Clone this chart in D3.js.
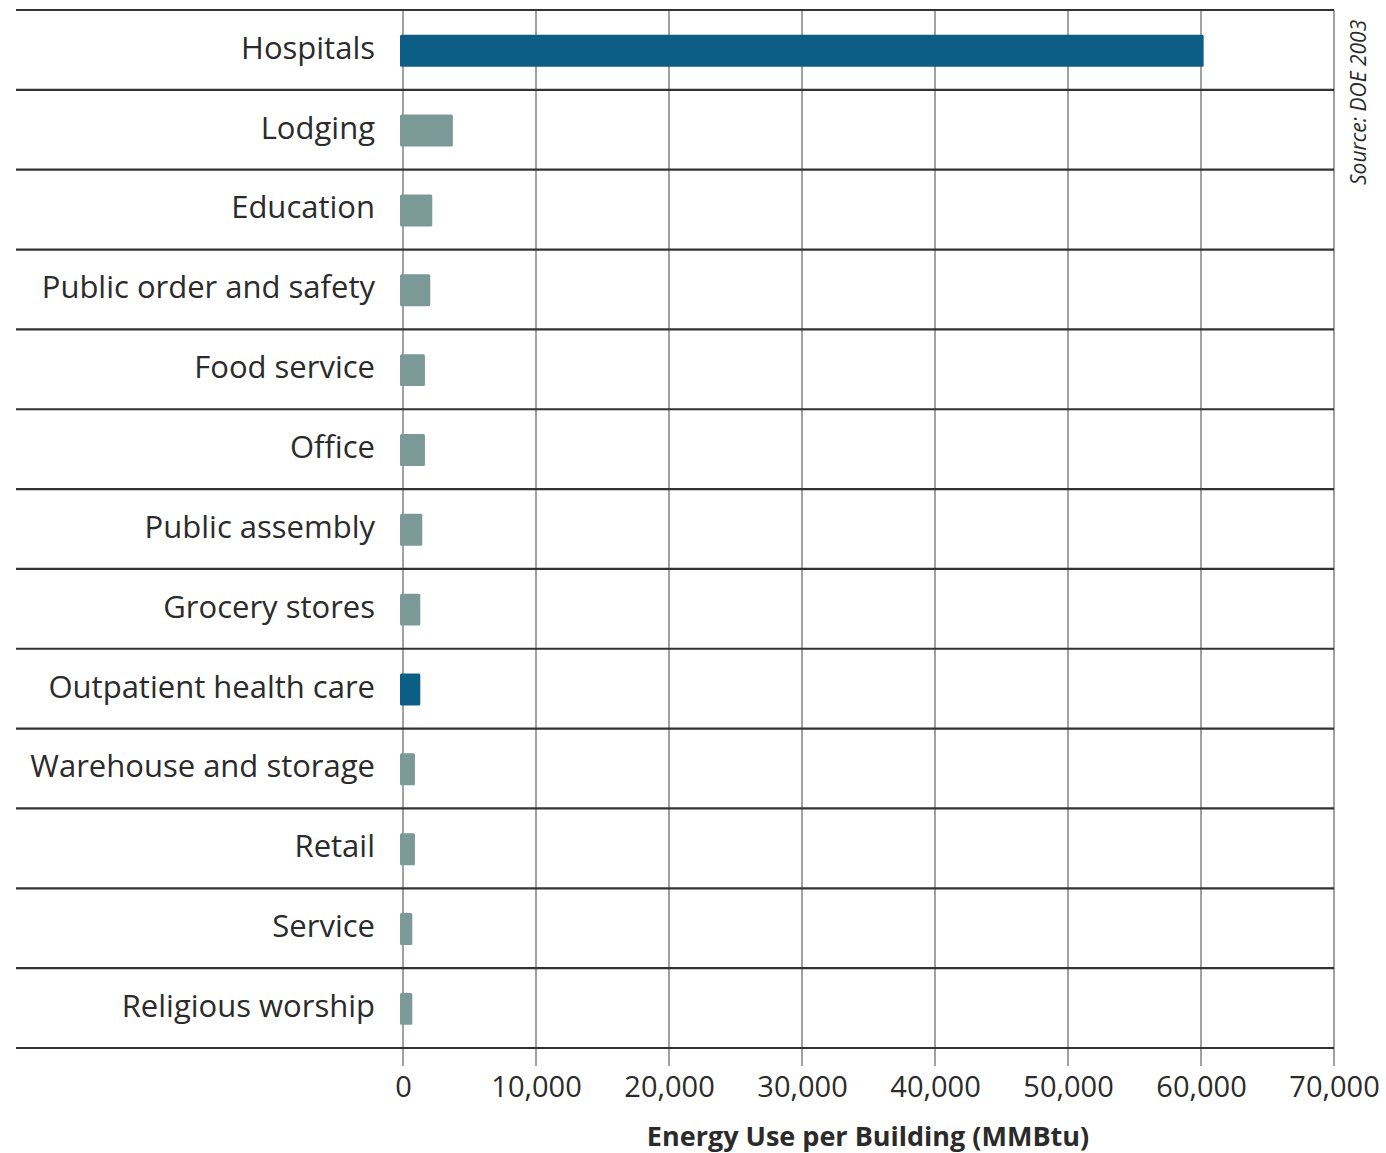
<!DOCTYPE html>
<html>
<head>
<meta charset="utf-8">
<script src="https://cdn.jsdelivr.net/npm/d3@7"></script>
<style>
  body { margin: 0; background: #fff; }
  text { font-family: "Open Sans", Lato, sans-serif; fill: #2b2b2b; }
</style>
</head>
<body>
<div id="chart"></div>
<script>
// Energy use per building, CBECS (DOE 2003)

let categories = ["Hospitals", "Lodging", "Education", "Public order and safety",
  "Food service", "Office", "Public assembly", "Grocery stores",
  "Outpatient health care", "Warehouse and storage", "Retail", "Service",
  "Religious worship"];
let energyUse = [60200, 3750, 2200, 2050, 1650, 1650, 1450, 1300, 1300, 900, 900, 700, 700];
let highlighted = ["Hospitals", "Outpatient health care"];
let tickValues = [0, 10000, 20000, 30000, 40000, 50000, 60000, 70000];

let svgWidth = 1386, svgHeight = 1153;
let rowLeft = 16, plotLeft = 403, plotRight = 1334, plotTop = 10, plotBottom = 1048;

let xScale = d3.scaleLinear().domain([0, 70000]).range([plotLeft, plotRight]);
let yScale = d3.scaleBand().domain(categories).range([plotTop, plotBottom]).padding(0);

let svg = d3.select("#chart").append("svg")
  .attr("width", svgWidth)
  .attr("height", svgHeight);

// vertical grid lines, running down past the last row as ticks
svg.append("g")
  .selectAll("line")
  .data(tickValues)
  .enter()
  .append("line")
  .attr("x1", d => xScale(d)).attr("x2", d => xScale(d))
  .attr("y1", plotTop).attr("y2", plotBottom + 18)
  .attr("stroke", "#8a8a8a")
  .attr("stroke-width", 1.6);

// horizontal row separators
let rowEdges = categories.map(c => yScale(c)).concat([plotBottom]);
svg.append("g")
  .selectAll("line")
  .data(rowEdges)
  .enter()
  .append("line")
  .attr("x1", rowLeft).attr("x2", plotRight)
  .attr("y1", d => d).attr("y2", d => d)
  .attr("stroke", "#333")
  .attr("stroke-width", 2.2);

// bars
let bw = yScale.bandwidth();
svg.append("g")
  .selectAll("rect")
  .data(categories)
  .enter()
  .append("rect")
  .attr("x", xScale(0) - 3)
  .attr("y", d => yScale(d) + bw * 0.31)
  .attr("width", (d, i) => xScale(energyUse[i]) - xScale(0) + 3)
  .attr("height", bw * 0.4)
  .attr("rx", 1.5)
  .attr("fill", d => highlighted.includes(d) ? "#0c5e87" : "#7b9a97");

// category labels
svg.append("g")
  .selectAll("text")
  .data(categories)
  .enter()
  .append("text")
  .attr("x", 375)
  .attr("y", d => yScale(d) + bw / 2 - 2)
  .attr("dy", "0.35em")
  .attr("text-anchor", "end")
  .style("font-size", "31px")
  .text(d => d);

// x axis tick labels
let xAxis = d3.axisBottom(xScale)
  .tickValues(tickValues)
  .tickSize(0)
  .tickPadding(0)
  .tickFormat(d3.format(","));
let axisG = svg.append("g")
  .attr("transform", "translate(0," + (plotBottom + 49) + ")")
  .call(xAxis);
axisG.select(".domain").remove();
axisG.selectAll("text")
  .attr("y", 0)
  .attr("dy", 0)
  .style("font-family", "'Open Sans', sans-serif")
  .style("font-size", "29px")
  .attr("fill", "#333");

// axis title
svg.append("text")
  .attr("x", 868)
  .attr("y", 1146)
  .attr("text-anchor", "middle")
  .style("font-size", "27px")
  .style("font-weight", "bold")
  .attr("fill", "#3a3a3a")
  .text("Energy Use per Building (MMBtu)");

// source note, rotated along right edge
svg.append("text")
  .attr("transform", "translate(1366,185) rotate(-90)")
  .style("font-size", "21px")
  .style("font-style", "italic")
  .text("Source: DOE 2003");
</script>
</body>
</html>
